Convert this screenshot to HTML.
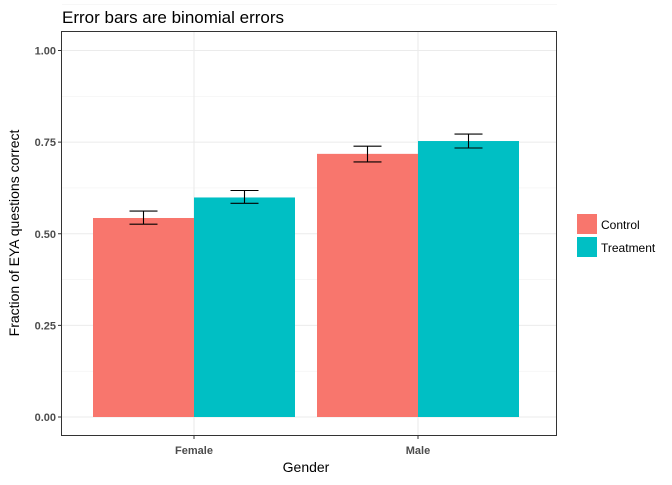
<!DOCTYPE html>
<html><head><meta charset="utf-8"><style>
body{margin:0;background:#fff;}
svg text{font-family:"Liberation Sans",sans-serif;}
</style></head><body>
<svg width="672" height="480" id="c">
<text x="62" y="23" font-size="17" fill="#000">Error bars are binomial errors</text>
<g id="grid"></g>
<g id="bars"></g>
<g id="errs"></g>
<rect x="61.5" y="31.5" width="495" height="404" fill="none" stroke="#333" stroke-width="1"/>
<g id="yt"></g>
<g id="xt"></g>
<text x="306" y="472" font-size="14" text-anchor="middle" fill="#000">Gender</text>
<text transform="translate(19,233) rotate(-90)" font-size="14" text-anchor="middle" fill="#000">Fraction of EYA questions correct</text>
<g>
<rect x="577" y="214" width="20" height="20" fill="#F8766D"/>
<text x="601" y="229" font-size="12">Control</text>
<rect x="577" y="237" width="20" height="20" fill="#00BFC4"/>
<text x="601" y="252" font-size="12">Treatment</text>
</g>
</svg>
<script>
const categories=["Female","Male"];
const controlVals=[0.543,0.718];
const treatVals=[0.599,0.753];
const controlLo=[0.526,0.696], controlHi=[0.562,0.739];
const treatLo=[0.583,0.734], treatHi=[0.618,0.772];
const yTicks=[0,0.25,0.5,0.75,1.0];
const yTickLabels=["0.00","0.25","0.50","0.75","1.00"];
const NS="http://www.w3.org/2000/svg";
function y(v){return 417-366.5*v;}
function xc(i){return 194+224*i;}
const bw=101;
function mk(t,a,p){const e=document.createElementNS(NS,t);for(const k in a)e.setAttribute(k,a[k]);document.getElementById(p).appendChild(e);return e;}
for(let v=0;v<=1.125;v+=0.125){const l=mk('line',{x1:62,x2:557,y1:y(v),y2:y(v),stroke:(Math.round(v*8)%2?'#f2f2f2':'#ebebeb'),'stroke-width':(Math.round(v*8)%2?0.6:1.1)},'grid');

}
categories.forEach((c,i)=>{const g=mk('line',{x1:xc(i),x2:xc(i),y1:32,y2:435,stroke:'#ebebeb','stroke-width':1.1},'grid');

});
yTicks.forEach((v,i)=>{const t=mk('text',{x:56,y:y(v)+4,'font-size':11,'font-weight':'bold','text-anchor':'end',fill:'#4d4d4d'},'yt');t.textContent=yTickLabels[i];


const tk=mk('line',{x1:58,x2:61,y1:y(v),y2:y(v),stroke:'#333'},'yt');

});
categories.forEach((c,i)=>{const t=mk('text',{x:xc(i),y:454,'font-size':11,'font-weight':'bold','text-anchor':'middle',fill:'#4d4d4d'},'xt');t.textContent=c;


const tk=mk('line',{x1:xc(i),x2:xc(i),y1:436,y2:439,stroke:'#333'},'xt');

});
const series=[[controlVals,controlLo,controlHi,'#F8766D',-1,'control'],[treatVals,treatLo,treatHi,'#00BFC4',0,'treatment']];
series.forEach(([vals,lo,hi,col,off,nm])=>{vals.forEach((v,i)=>{
const x0=xc(i)+off*bw;
const b=mk('rect',{x:x0,y:y(v),width:bw,height:y(0)-y(v),fill:col},'bars');


const cx=x0+bw/2, hw=14;
const e=mk('path',{d:`M${cx-hw},${y(hi[i])}H${cx+hw}M${cx},${y(hi[i])}V${y(lo[i])}M${cx-hw},${y(lo[i])}H${cx+hw}`,stroke:'#000','stroke-width':1.1,fill:'none'},'errs');


});});
</script>
</body></html>
